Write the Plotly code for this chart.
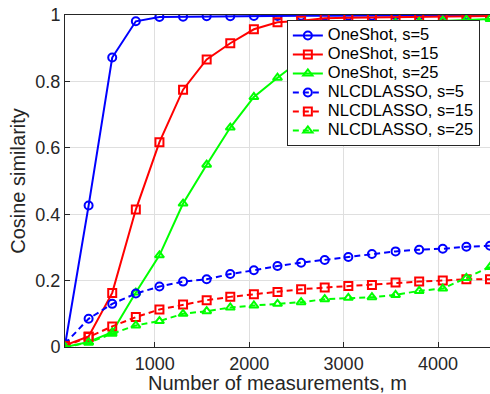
import plotly.graph_objects as go

m = [50 + 250 * k for k in range(19)]

oneshot_s5 = [0.005, 0.426, 0.872, 0.981, 0.994, 0.995, 0.996, 0.996, 0.997, 0.997, 0.998,
              0.998, 0.998, 0.998, 0.999, 0.999, 0.999, 0.999, 0.999]
oneshot_s15 = [0.005, 0.032, 0.163, 0.414, 0.617, 0.775, 0.866, 0.915, 0.957, 0.978, 0.983,
               0.990, 0.992, 0.993, 0.994, 0.995, 0.996, 0.996, 0.997]
oneshot_s25 = [0.0, 0.015, 0.045, 0.164, 0.276, 0.432, 0.549, 0.661, 0.753, 0.811, 0.865,
               0.91, 0.945, 0.965, 0.976, 0.979, 0.983, 0.986, 0.988]
nlcd_s5 = [0.01, 0.085, 0.13, 0.161, 0.182, 0.197, 0.204, 0.22, 0.231, 0.244, 0.254,
           0.262, 0.271, 0.28, 0.288, 0.293, 0.296, 0.302, 0.305]
nlcd_s15 = [0.003, 0.03, 0.062, 0.09, 0.113, 0.128, 0.141, 0.151, 0.159, 0.166, 0.174,
            0.179, 0.184, 0.187, 0.194, 0.197, 0.2, 0.204, 0.204]
nlcd_s25 = [0.0, 0.013, 0.04, 0.065, 0.078, 0.1, 0.108, 0.119, 0.125, 0.13, 0.135,
            0.144, 0.148, 0.15, 0.157, 0.169, 0.176, 0.208, 0.241]

series = [
    ("OneShot, s=5", oneshot_s5, "#0000ff", "circle-open", "solid"),
    ("OneShot, s=15", oneshot_s15, "#ff0000", "square-open", "solid"),
    ("OneShot, s=25", oneshot_s25, "#00ff00", "triangle-up-open", "solid"),
    ("NLCDLASSO, s=5", nlcd_s5, "#0000ff", "circle-open", "dash"),
    ("NLCDLASSO, s=15", nlcd_s15, "#ff0000", "square-open", "dash"),
    ("NLCDLASSO, s=25", nlcd_s25, "#00ff00", "triangle-up-open", "dash"),
]

fig = go.Figure()
for name, ys, col, sym, dash in series:
    fig.add_trace(go.Scatter(
        x=m, y=ys, mode="lines+markers",
        name='<span style="font-size:16.5px">' + name + '</span>',
        line=dict(color=col, width=2, dash=dash if dash == "solid" else "6px,4px"),
        marker=dict(symbol=sym, size=8, color=col, line=dict(color=col, width=2)),
    ))

font_family = "Liberation Sans, Arial, sans-serif"
fig.update_layout(
    width=490, height=394,
    margin=dict(l=65, r=0, t=15, b=47),
    paper_bgcolor="white", plot_bgcolor="white",
    font=dict(family=font_family, color="#262626", size=18),
    showlegend=True,
    legend=dict(
        x=0.522, y=0.985, xanchor="left", yanchor="top",
        bgcolor="white", bordercolor="#262626", borderwidth=1,
        font=dict(size=11.5, color="#000000"),
        tracegroupgap=0, itemwidth=30,
    ),
    xaxis=dict(
        range=[50, 4550], tickvals=[1000, 2000, 3000, 4000],
        ticks="inside", ticklen=5, tickcolor="#262626",
        showline=True, linecolor="#262626", linewidth=1, mirror=True,
        showgrid=True, gridcolor="#dfdfdf", gridwidth=1, zeroline=False,
        tickfont=dict(size=18),
        title=dict(text="Number of measurements, m", font=dict(size=20), standoff=2),
    ),
    yaxis=dict(
        range=[0, 1], tickvals=[0, 0.2, 0.4, 0.6, 0.8, 1],
        ticktext=["0", "0.2", "0.4", "0.6", "0.8", "1"],
        ticks="inside", ticklen=5, tickcolor="#262626",
        showline=True, linecolor="#262626", linewidth=1, mirror=True,
        showgrid=True, gridcolor="#dfdfdf", gridwidth=1, zeroline=False,
        tickfont=dict(size=18),
        title=dict(text="Cosine similarity", font=dict(size=20), standoff=4),
    ),
)

fig.write_html("out.html")
